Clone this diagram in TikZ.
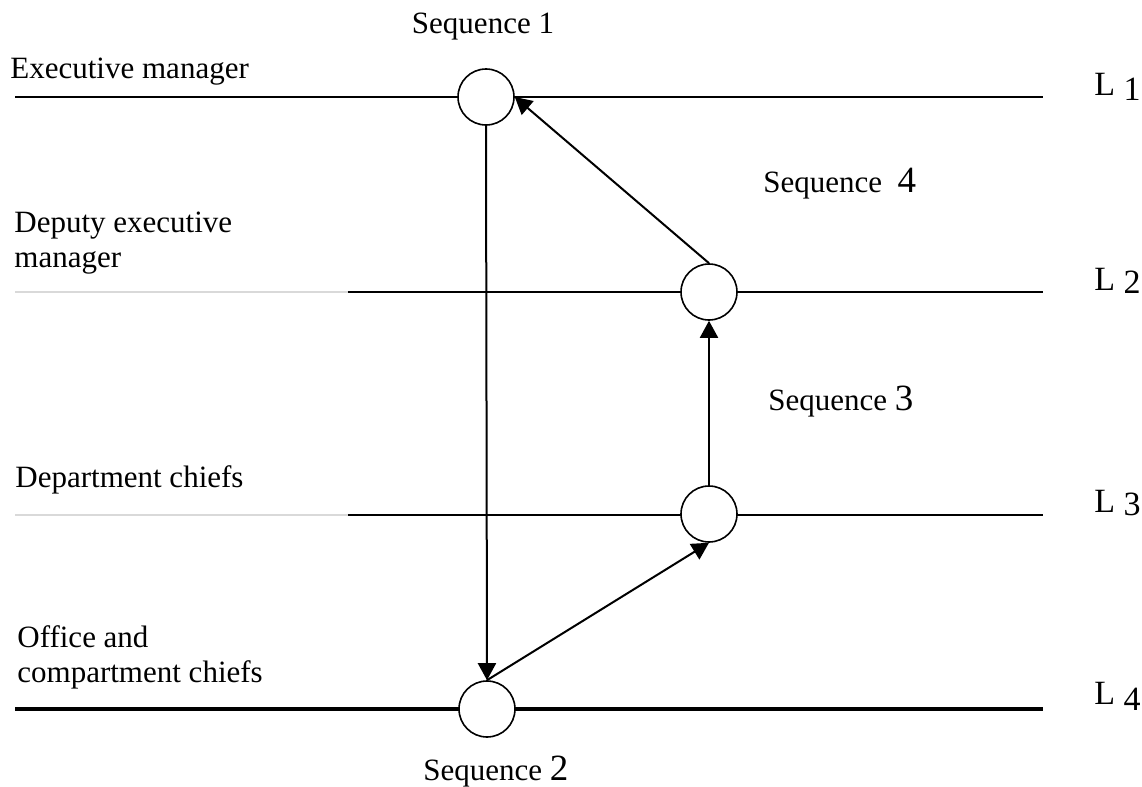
\documentclass[tikz,border=0pt]{standalone}
\usepackage{fontspec}
\setmainfont{Liberation Serif}
\usetikzlibrary{arrows.meta}
\tikzset{
  seq/.style={circle,draw,fill=white,line width=0.8pt,minimum size=28pt,inner sep=0pt},
  level/.style={line width=1pt},
  faint/.style={gray!30,line width=0.6pt},
  flow/.style={-{Triangle[length=8.5pt,width=9pt]},line width=1pt},
  txt/.style={inner sep=0pt,align=left,font=\fontsize{15.5}{17.5}\selectfont},
  lev/.style={inner sep=0pt,anchor=base west,font=\fontsize{17}{17}\selectfont},
}
\newcommand{\bigdigit}[1]{{\fontsize{18.5}{18.5}\selectfont #1}}
\begin{document}
\begin{tikzpicture}[x=0.5pt,y=-0.5pt]
  \useasboundingbox (0,0) rectangle (1142,787);
  \coordinate (w1) at (15,97);  \coordinate (e1) at (1043,97);
  \coordinate (w2) at (15,292); \coordinate (m2) at (348,292); \coordinate (e2) at (1043,292);
  \coordinate (w3) at (15,515); \coordinate (m3) at (348,515); \coordinate (e3) at (1043,515);
  \coordinate (w4) at (15,709); \coordinate (e4) at (1043,709);

  \draw[level] (w1) -- (e1);
  \draw[faint] (w2) -- (m2); \draw[level] (m2) -- (e2);
  \draw[faint] (w3) -- (m3); \draw[level] (m3) -- (e3);
  \draw[level,line width=1.6pt] (w4) -- (e4);

  \node[seq] (s1) at (486,97) {};
  \node[seq] (s2) at (487,709) {};
  \node[seq] (s3) at (709,514) {};
  \node[seq] (s4) at (709,292) {};

  \draw[flow] (s1.south) -- (s2.north); \draw[flow] (s2.north) -- (s3.south);
  \draw[flow] (s3) -- (s4); \draw[flow] (s4.north) -- (s1.east);

  \node[txt,anchor=base] (seq1) at (483,33) {Sequence 1};
  \node[txt,anchor=base west] (seq4) at (763,192) {Sequence\ \ \bigdigit{4}};
  \node[txt,anchor=base west] (seq3) at (768,410) {Sequence \bigdigit{3}};
  \node[txt,anchor=base west] (seq2) at (423,780) {Sequence \bigdigit{2}};

  \node[txt,anchor=base west] (exec) at (10,78) {Executive manager};
  \node[txt,anchor=base west] (deputy) at (14,267) {Deputy executive\\manager};
  \node[txt,anchor=base west] (dept) at (15,487) {Department chiefs};
  \node[txt,anchor=base west] (office) at (17,682) {Office and\\compartment chiefs};

  \node[lev] (L1) at (1094,95) {L \raisebox{-2.5pt}{1}};
  \node[lev] (L2) at (1094,290) {L \raisebox{-1.5pt}{2}};
  \node[lev] (L3) at (1094,512) {L \raisebox{-1.5pt}{3}};
  \node[lev] (L4) at (1094,704) {L \raisebox{-3pt}{4}};
\end{tikzpicture}
\end{document}
